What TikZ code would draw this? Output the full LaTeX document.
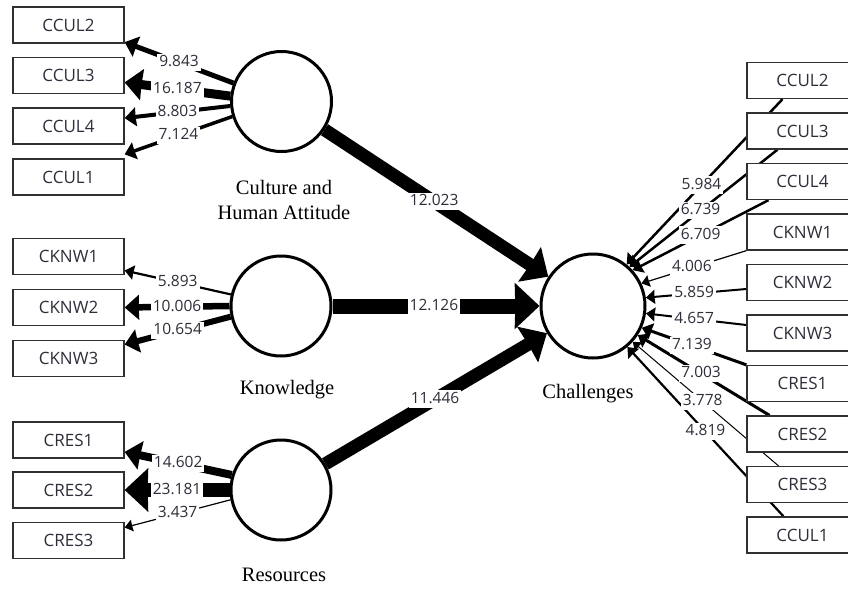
\documentclass[tikz,border=0pt]{standalone}
\usepackage{fontspec}
\setmainfont{Liberation Serif}
\newfontfamily\uifont{Open Sans}
\usetikzlibrary{arrows.meta}
\pgfdeclarelayer{bg}\pgfdeclarelayer{lab}\pgfdeclarelayer{paper}
\pgfsetlayers{paper,bg,lab,main}
\definecolor{txt}{HTML}{2E2E3A}
\definecolor{boxc}{HTML}{303030}
\newcommand\mylink[6]{%
  \begin{pgfonlayer}{bg}\draw[#1] #2 -- #3;\end{pgfonlayer}%
  \begin{pgfonlayer}{lab}\path #2 -- #3 node[lbl,pos=#4] (#6) {#5};\end{pgfonlayer}}
\begin{document}
\begin{tikzpicture}[x=1pt,y=-1pt,
  arr/.style={line width=#1pt, -{Stealth[length=6.5pt 1.2, width=9pt 2.4, inset'=0.3]}},
  lbl/.style={fill=white, inner xsep=2pt, inner ysep=1.5pt, text height=11.5pt, text depth=3pt,
    font=\uifont\fontsize{15.5}{17}\selectfont, text=txt},
  ind/.style={draw=boxc, line width=1.3pt, fill=white, minimum width=111pt, minimum height=36pt,
    inner sep=0pt, font=\uifont\fontsize{17}{19}\selectfont, text=txt},
  lat/.style={circle, draw, line width=3pt, fill=white, minimum size=100pt, inner sep=0pt},
  captext/.style={font=\fontsize{20.5}{25}\selectfont, align=center}]
\useasboundingbox (0,0) rectangle (848,592);
\begin{pgfonlayer}{paper}\fill[white] (0,0) rectangle (848,592);\end{pgfonlayer}
\clip (0,0) rectangle (848,592);
% latent variables
\node[lat] (cul) at (281.5,101.5) {};
\node[lat] (knw) at (281,306) {};
\node[lat] (res) at (281,490) {};
\node[lat, minimum size=104pt] (ch) at (593,306) {};
\node[captext] (culcap) at (284,200) {Culture and\\Human Attitude};
\node[captext] (knwcap) at (287,390) {Knowledge};
\node[captext] (rescap) at (284,575) {Resources};
\node[captext] (chcap) at (588,394) {Challenges};
% left indicators
\node[ind] (lc2) at (68.5,25) {CCUL2};
\node[ind] (lc3) at (68.5,75.5) {CCUL3};
\node[ind] (lc4) at (68.5,126) {CCUL4};
\node[ind] (lc1) at (68.5,177) {CCUL1};
\node[ind] (lk1) at (68.5,256.5) {CKNW1};
\node[ind] (lk2) at (68.5,307.5) {CKNW2};
\node[ind] (lk3) at (68.5,358.5) {CKNW3};
\node[ind] (lr1) at (68.5,440) {CRES1};
\node[ind] (lr2) at (68.5,490) {CRES2};
\node[ind] (lr3) at (68.5,540.5) {CRES3};
% right indicators
\node[ind] (rc2) at (802.5,80.5) {CCUL2};
\node[ind] (rc3) at (802.5,131) {CCUL3};
\node[ind] (rc4) at (802.5,181.5) {CCUL4};
\node[ind] (rk1) at (802.5,232) {CKNW1};
\node[ind] (rk2) at (802.5,282.5) {CKNW2};
\node[ind] (rk3) at (802.5,333) {CKNW3};
\node[ind] (rr1) at (802.5,383.5) {CRES1};
\node[ind] (rr2) at (802.5,434) {CRES2};
\node[ind] (rr3) at (802.5,484.5) {CRES3};
\node[ind] (rc1) at (802.5,535) {CCUL1};
% outer loadings, left
\mylink{arr=5}{(cul.159)}{(lc2.-17)}{0.5}{9.843}{a1}
\mylink{arr=9}{(cul.174)}{(lc3.-7)}{0.5}{16.187}{a2}
\mylink{arr=4}{(cul.185)}{(lc4.8)}{0.5}{8.803}{a3}
\mylink{arr=3.5}{(cul.197)}{([yshift=4pt]lc1.north east)}{0.5}{7.124}{a4}
\mylink{arr=2.2}{(knw.167)}{(lk1.-14)}{0.5}{5.893}{b1}
\mylink{arr=6.5}{(knw.180)}{(lk2.east)}{0.5}{10.006}{b2}
\mylink{arr=6}{(knw.192)}{(lk3.14)}{0.5}{10.654}{b3}
\mylink{arr=8}{(res.163)}{(lr1.-12)}{0.5}{14.602}{c1}
\mylink{arr=14}{(res.180)}{(lr2.east)}{0.5}{23.181}{c2}
\mylink{arr=1.2}{(res.191)}{(lr3.13)}{0.5}{3.437}{c3}
% inner paths
\mylink{arr=13}{(cul)}{(ch)}{0.49}{12.023}{m1}
\mylink{arr=15}{(knw)}{(ch)}{0.49}{12.126}{m2}
\mylink{arr=13}{(res)}{(ch)}{0.495}{11.446}{m3}
% right indicators to Challenges
\mylink{arr=2.5}{([xshift=-20pt]rc2.south)}{(ch.51)}{0.52}{5.984}{d1}
\mylink{arr=2.5}{([xshift=-25pt]rc3.south)}{(ch.47)}{0.52}{6.739}{d2}
\mylink{arr=2.5}{([xshift=-34pt]rc4.south)}{(ch.42)}{0.5}{6.709}{d3}
\mylink{arr=1.2}{(rk1.south west)}{(ch.25)}{0.52}{4.006}{d4}
\mylink{arr=2}{([yshift=-6.5pt]rk2.west)}{(ch.9)}{0.52}{5.859}{d5}
\mylink{arr=2}{([yshift=8pt]rk3.west)}{(ch.-8)}{0.52}{4.657}{d6}
\mylink{arr=3}{(rr1.north west)}{(ch.-24)}{0.52}{7.139}{d7}
\mylink{arr=3}{([xshift=-33pt]rr2.north)}{(ch.-33)}{0.52}{7.003}{d8}
\mylink{arr=1}{([xshift=-24pt]rr3.north)}{(ch.-42)}{0.52}{3.778}{d9}
\mylink{arr=2.2}{([xshift=-19pt]rc1.north)}{(ch.-50)}{0.5}{4.819}{d10}
\end{tikzpicture}
\end{document}
